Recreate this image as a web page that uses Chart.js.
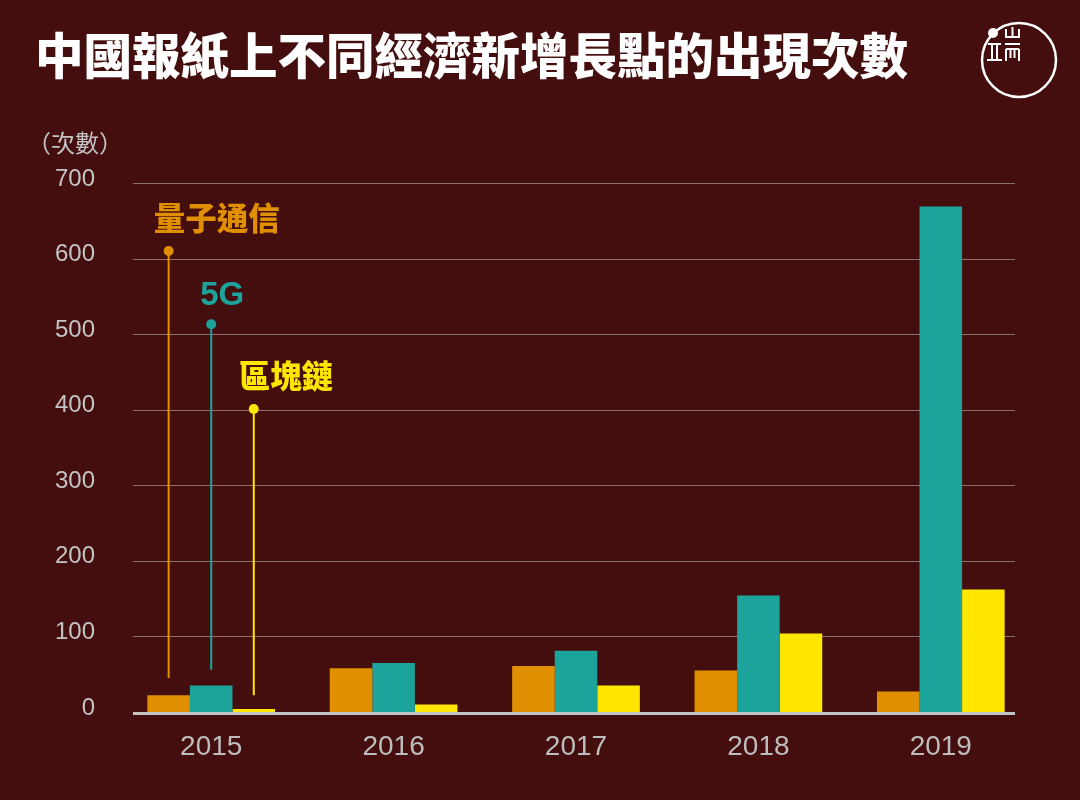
<!DOCTYPE html>
<html>
<head>
<meta charset="utf-8">
<script src="https://cdn.jsdelivr.net/npm/chart.js@4.4.1/dist/chart.umd.min.js"></script>
<style>
  body { margin: 0; background: #450e0e; }
  #wrap { width: 1080px; height: 800px; }
</style>
</head>
<body>
<div id="wrap"><canvas id="newsChart"></canvas></div>
<script>
// data
var years = ['2015', '2016', '2017', '2018', '2019'];
var quantumData = [22, 58, 61, 55, 27];
var fiveGData = [35, 65, 81, 154, 669];
var blockchainData = [4, 10, 35, 104, 162];
var seriesNames = ['量子通信', '5G', '區塊鏈'];
var seriesColors = ['#e08f00', '#1ba39c', '#ffe600'];
// callout stems on the 2015 bars (in axis units)
var calloutTop = [610, 513, 401];
var calloutBottom = [45, 56, 22];
var yMax = 700;
var yStep = 100;

var titleText = '中國報紙上不同經濟新增長點的出現次數';
var unitText = '（次數）';
var cjk = '"Noto Sans CJK TC", "Noto Sans CJK SC", sans-serif';
var latin = '"Liberation Sans", Arial, sans-serif';

function seg(c, x1, y1, x2, y2) {
    c.beginPath();
    c.moveTo(x1, y1);
    c.lineTo(x2, y2);
    c.stroke();
}

var decorPlugin = {
    id: 'decor',
    beforeDraw: function (chart) {
        var c = chart.ctx;
        c.save();
        c.fillStyle = '#450e0e';
        c.fillRect(0, 0, chart.width, chart.height);

        c.fillStyle = '#ffffff';
        c.font = '900 48.5px ' + cjk;
        c.textBaseline = 'middle';
        c.textAlign = 'left';
        c.fillText(titleText, 35, 56);

        c.fillStyle = '#c4c4c4';
        c.font = '24px ' + cjk;
        c.fillText(unitText, 27, 143);

        // logo
        c.strokeStyle = '#ffffff';
        c.lineWidth = 2.5;
        c.beginPath();
        c.arc(1019, 60, 37, 0, Math.PI * 2);
        c.stroke();
        c.fillStyle = '#ffffff';
        c.beginPath();
        c.arc(993, 33, 5, 0, Math.PI * 2);
        c.fill();
        c.lineWidth = 2;
        seg(c, 1006, 29, 1006, 37);
        seg(c, 1012.5, 27, 1012.5, 37);
        seg(c, 1019, 29, 1019, 37);
        seg(c, 1005, 37, 1020, 37);
        seg(c, 988, 44, 1001, 44);
        seg(c, 987, 60, 1002, 60);
        seg(c, 992, 44, 992, 60);
        seg(c, 997, 44, 997, 60);
        seg(c, 1005, 44, 1020, 44);
        seg(c, 1006, 49, 1019, 49);
        seg(c, 1006, 49, 1006, 61);
        seg(c, 1019, 49, 1019, 61);
        seg(c, 1010.5, 49, 1010.5, 58);
        seg(c, 1014.5, 49, 1014.5, 58);
        c.restore();
    },
    beforeDatasetsDraw: function (chart) {
        var c = chart.ctx;
        var area = chart.chartArea;
        var y = chart.scales.y;
        c.save();
        c.strokeStyle = '#8e6f6f';
        c.lineWidth = 1;
        y.ticks.forEach(function (t) {
            if (t.value === 0) return;
            var py = Math.round(y.getPixelForValue(t.value)) + 0.5;
            seg(c, area.left + 13, py, area.right - 17, py);
        });
        c.restore();
    },
    afterDatasetsDraw: function (chart) {
        var c = chart.ctx;
        var area = chart.chartArea;
        var y = chart.scales.y;
        c.save();
        // baseline
        c.strokeStyle = '#c4c4c4';
        c.lineWidth = 3;
        var py0 = y.getPixelForValue(0) + 1.5;
        seg(c, area.left + 13, py0, area.right - 17, py0);

        // callouts
        for (var i = 0; i < seriesNames.length; i++) {
            var bar = chart.getDatasetMeta(i).data[0];
            var top = y.getPixelForValue(calloutTop[i]);
            var bot = y.getPixelForValue(calloutBottom[i]);
            c.strokeStyle = seriesColors[i];
            c.fillStyle = seriesColors[i];
            c.lineWidth = 2;
            seg(c, bar.x, top, bar.x, bot);
            c.beginPath();
            c.arc(bar.x, top, 5, 0, Math.PI * 2);
            c.fill();
            c.textAlign = 'left';
            c.textBaseline = 'middle';
            if (seriesNames[i] === '5G') {
                c.font = 'bold 33px ' + latin;
                c.fillText(seriesNames[i], bar.x - 11, top - 28);
            } else {
                c.font = '900 31.5px ' + cjk;
                c.fillText(seriesNames[i], bar.x - 15, top - 33);
            }
        }
        c.restore();
    }
};

var ctxNews = document.getElementById('newsChart').getContext('2d');
var newsChart = new Chart(ctxNews, {
    type: 'bar',
    data: {
        labels: years,
        datasets: [{
            label: seriesNames[0],
            data: quantumData,
            backgroundColor: seriesColors[0]
        }, {
            label: seriesNames[1],
            data: fiveGData,
            backgroundColor: seriesColors[1]
        }, {
            label: seriesNames[2],
            data: blockchainData,
            backgroundColor: seriesColors[2]
        }]
    },
    options: {
        responsive: true,
        maintainAspectRatio: false,
        animation: false,
        layout: {
            padding: { left: 0, top: 183, right: 48, bottom: 0 }
        },
        datasets: {
            bar: { categoryPercentage: 0.7, barPercentage: 1.0 }
        },
        plugins: {
            legend: { display: false },
            tooltip: { enabled: false }
        },
        scales: {
            x: {
                grid: { display: false, drawTicks: false },
                border: { display: false },
                ticks: {
                    color: '#bdbdbd',
                    font: { family: latin, size: 28 },
                    padding: 18
                },
                afterFit: function (scale) { scale.height = 88; }
            },
            y: {
                min: 0,
                max: yMax,
                grid: { display: false, drawTicks: false },
                border: { display: false },
                ticks: {
                    stepSize: yStep,
                    color: '#c4c4c4',
                    font: { family: latin, size: 24 },
                    padding: 25,
                    labelOffset: -4
                },
                afterFit: function (scale) { scale.width = 120; }
            }
        }
    },
    plugins: [decorPlugin]
});
</script>
</body>
</html>
